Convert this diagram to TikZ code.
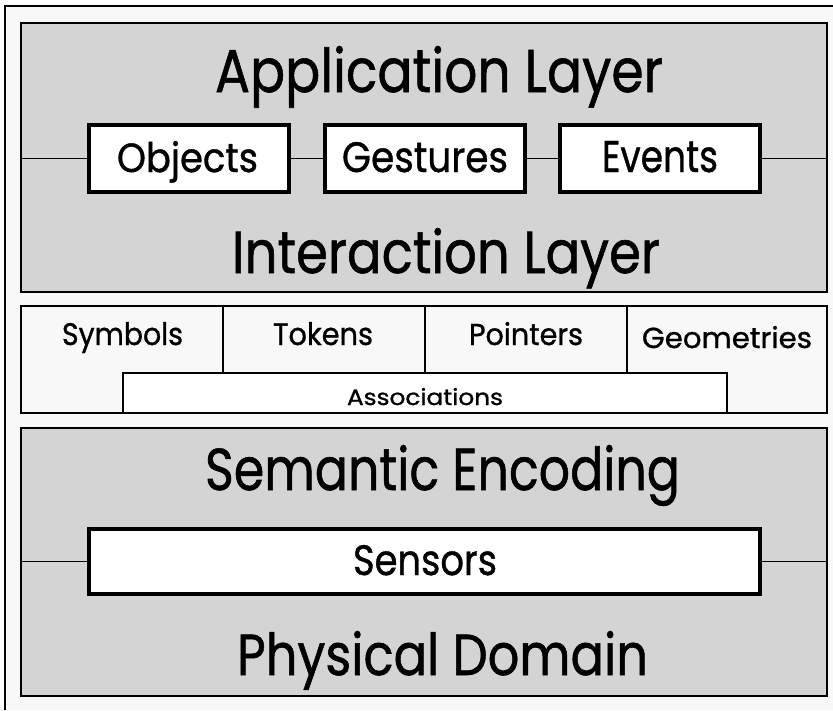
\documentclass[tikz,border=0pt]{standalone}
\usepackage{fontspec}
\setmainfont{Poppins}[FakeBold=1.0,AutoFakeBold=1.0]
\usepackage{graphicx}
\definecolor{panelgray}{HTML}{D4D4D4}
\definecolor{paper}{HTML}{F8F8F8}
\newcommand{\fitt}[3]{\resizebox{#1pt}{#2pt}{\bfseries #3}}
\begin{document}
\begin{tikzpicture}[x=1pt,y=-1pt,
  panel/.style={draw=black, line width=2pt, fill=panelgray, inner sep=0pt, outer sep=0pt, anchor=north west, minimum width=806pt},
  box/.style={draw=black, line width=4pt, fill=white, inner sep=0pt},
  conn/.style={draw=black, line width=1.8pt},
  lbl/.style={inner sep=0pt, outer sep=0pt, anchor=base},
  tile/.style={inner sep=0pt, outer sep=0pt, minimum width=202pt, minimum height=67pt}]
\fill[white] (0,0) rectangle (833,710);
\useasboundingbox (0,0) rectangle (833,710);
\fill[paper] (5,6) rectangle (833,710);
\draw[line width=2pt] (5,710) -- (5,6) -- (833,6);

% top panel
\node[panel, minimum height=269pt] (app) at (21,23) {};
\node[lbl] (apptxt) at (439,92) {\fitt{448}{46}{Application Layer}};
\node[lbl] (inttxt) at (446,273) {\fitt{428}{45}{Interaction Layer}};
\node[box, minimum width=200pt, minimum height=67pt] (obj) at (189,158.5) {};
\node[box, minimum width=200pt, minimum height=67pt] (ges) at (424.5,158.5) {};
\node[box, minimum width=200pt, minimum height=67pt] (evt) at (659.5,158.5) {};
\node[lbl] (objtxt) at (187.5,172) {\fitt{141}{31}{Objects}};
\node[lbl] (gestxt) at (425,172) {\fitt{166}{30}{Gestures}};
\node[lbl] (evttxt) at (660,172) {\fitt{116}{31}{Events}};
\draw[conn] (app.west |- obj.west) -- (obj.west);
\draw[conn] (obj.east) -- (ges.west);
\draw[conn] (ges.east) -- (evt.west);
\draw[conn] (evt.east) -- (app.east |- evt.east);

% middle panel
\node[panel, fill=paper, minimum height=107pt] (mid) at (21,306) {};
\node[tile] (tsym) at (122,339.5) {};
\node[tile] (ttok) at (324,339.5) {};
\node[tile] (tpoi) at (526,339.5) {};
\node[tile] (tgeo) at (727,339.5) {};
\draw[conn] (tsym.north east) -- (tsym.south east);
\draw[conn] (ttok.north east) -- (ttok.south east);
\draw[conn] (tpoi.north east) -- (tpoi.south east);
\node[draw=black, line width=2pt, fill=white, inner sep=0pt, minimum width=604pt, minimum height=40pt] (assoc) at (425,393) {};
\node[lbl] (symtxt) at (122.5,345) {\fitt{121}{23}{Symbols}};
\node[lbl] (toktxt) at (323,345) {\fitt{100}{23}{Tokens}};
\node[lbl] (poitxt) at (526,345) {\fitt{114}{23}{Pointers}};
\node[lbl] (geotxt) at (727,348) {\fitt{170}{22}{Geometries}};
\node[lbl] (asstxt) at (425,405) {\fitt{156}{17}{Associations}};

% bottom panel
\node[panel, minimum height=268pt] (enc) at (21,428) {};
\node[lbl] (semtxt) at (442.5,490) {\fitt{475}{45}{Semantic Encoding}};
\node[lbl] (phytxt) at (442.5,675) {\fitt{411}{44}{Physical Domain}};
\node[box, minimum width=671pt, minimum height=65pt] (sen) at (424.5,561.5) {};
\node[lbl] (sentxt) at (425,575) {\fitt{144}{30}{Sensors}};
\draw[conn] (enc.west |- sen.west) -- (sen.west);
\draw[conn] (sen.east) -- (enc.east |- sen.east);
\end{tikzpicture}
\end{document}
